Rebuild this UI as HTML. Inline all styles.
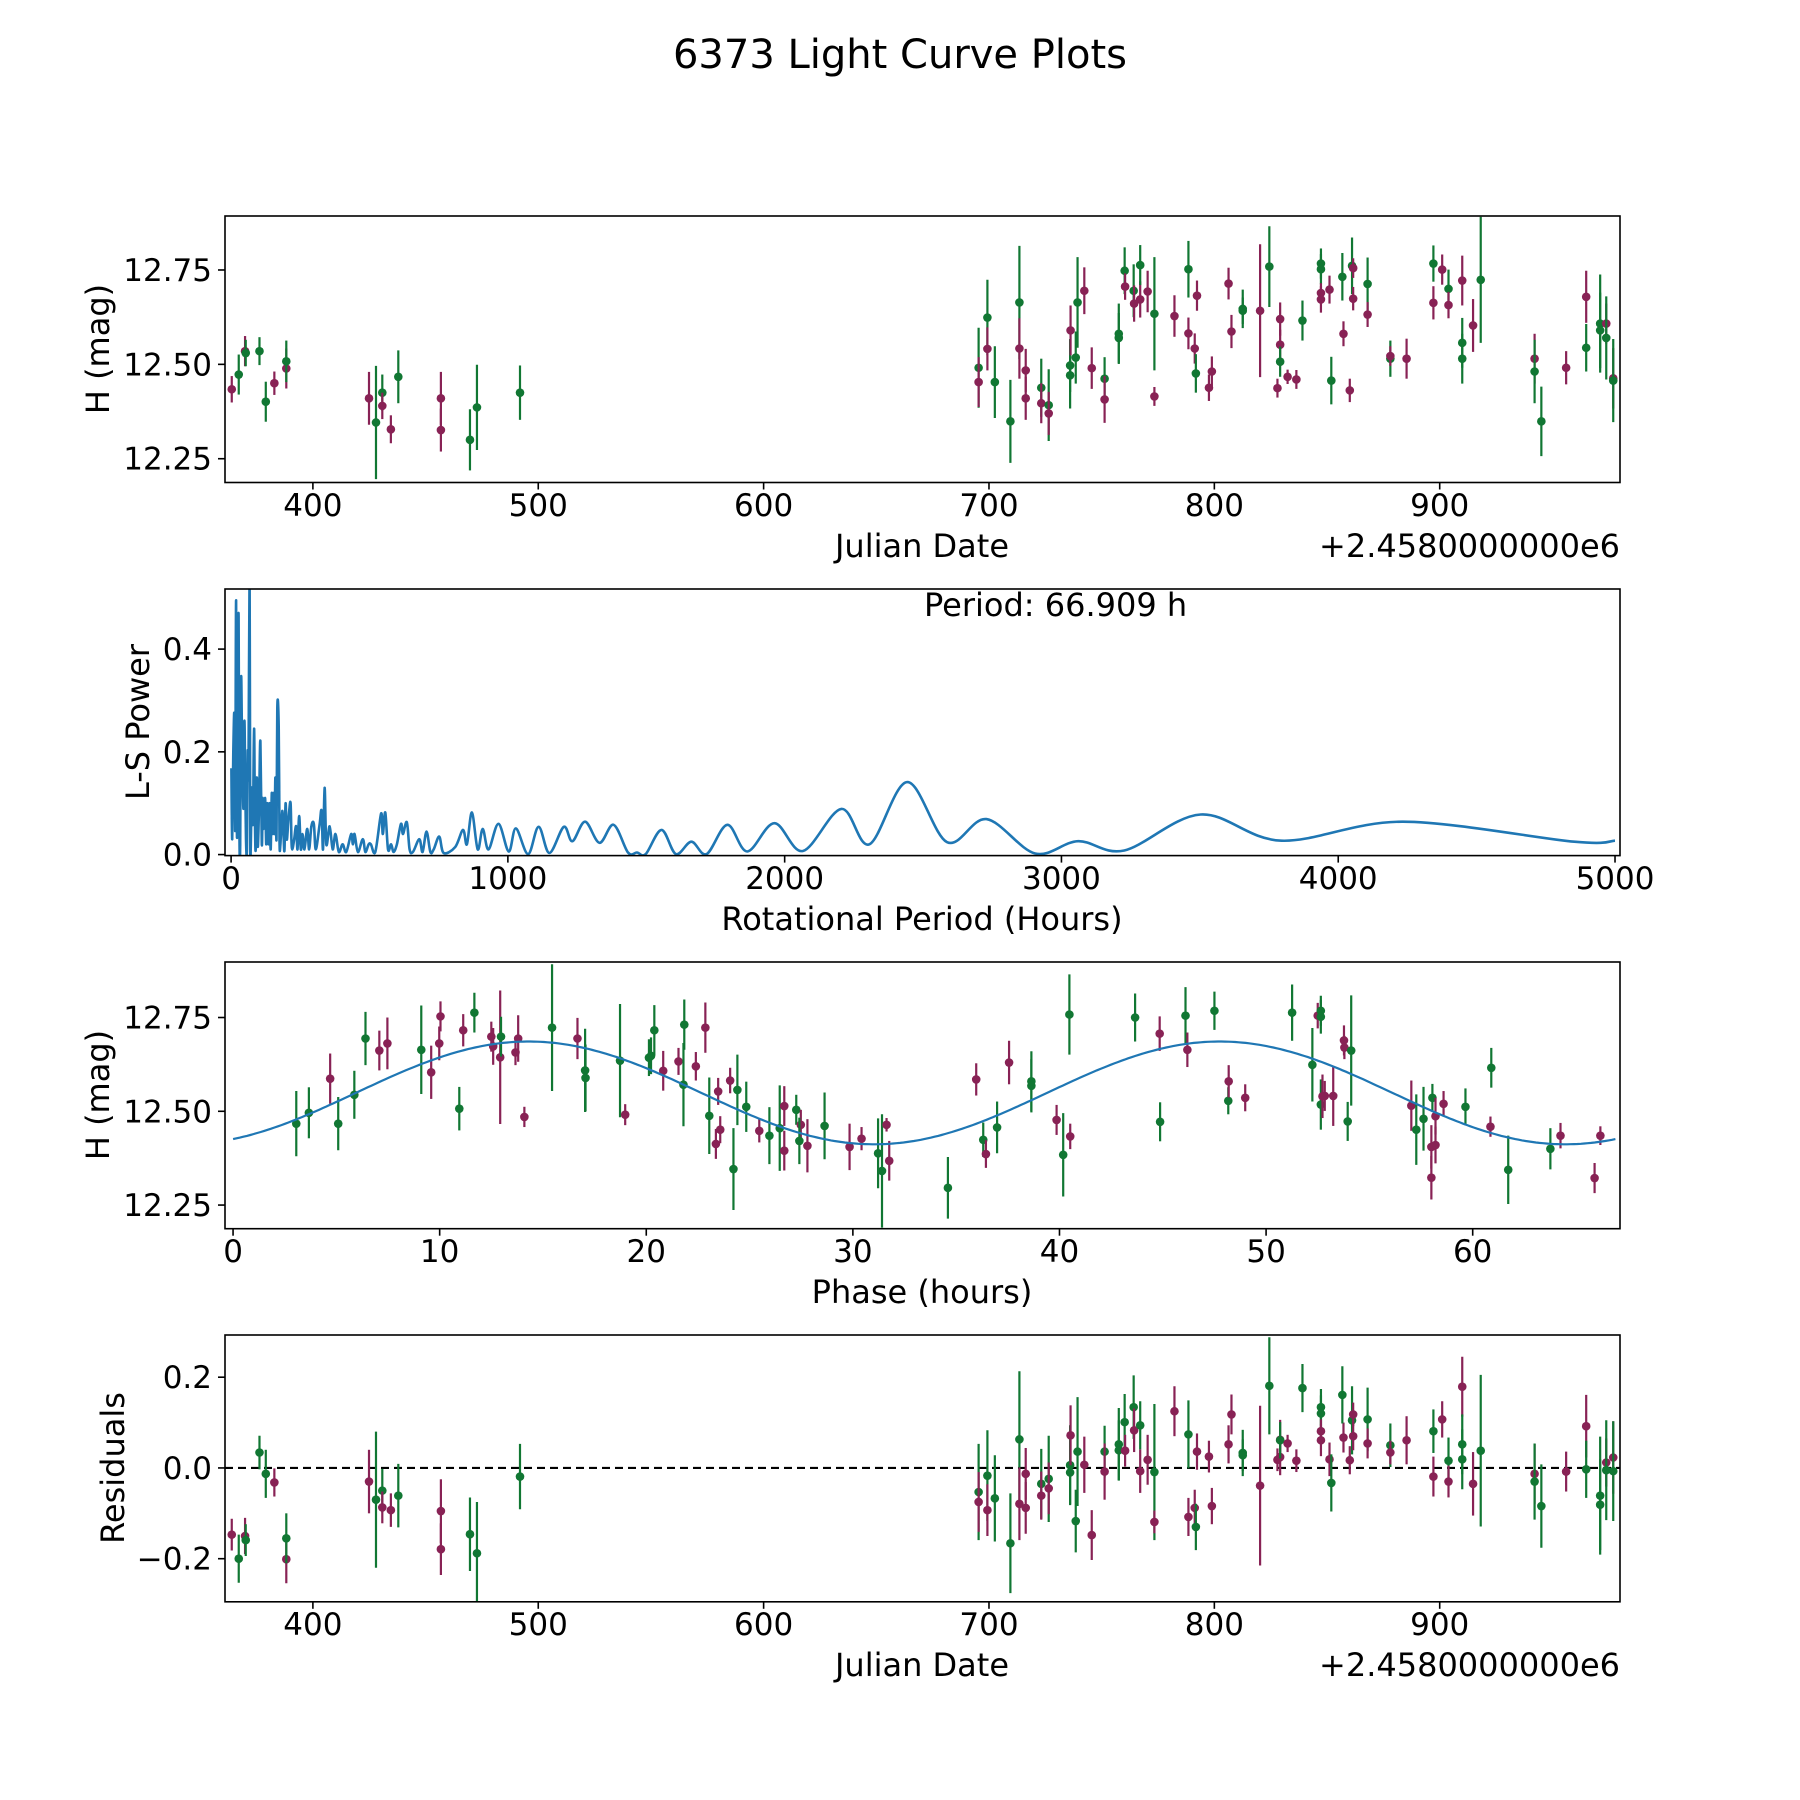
<!DOCTYPE html>
<html><head><meta charset="utf-8"><title>6373 Light Curve Plots</title>
<style>html,body{margin:0;padding:0;background:#fff}svg{display:block}text{font-family:"DejaVu Sans","Liberation Sans",sans-serif;fill:#000}</style>
</head><body>
<svg id="fig" xmlns="http://www.w3.org/2000/svg" width="1800" height="1800" viewBox="0 0 1800 1800">
<rect x="0" y="0" width="1800" height="1800" fill="#fff"/>
<text x="900" y="68" font-size="40" text-anchor="middle">6373 Light Curve Plots</text>
</svg>
<script>
// ---------- data: light curve (Julian Date offset from 2458000) ----------
const jd=[364.0,367.1,369.9,370.2,376.3,379.1,382.9,388.2,388.2,424.9,428,430.8,430.8,434.6,437.9,456.8,456.8,469.7,472.8,491.9,
695.4,695.4,699.3,699.3,702.6,709.5,713.5,713.5,716.3,716.3,723.2,723.2,726.5,726.5,736.0,736.0,736.2,738.5,739.3,742.3,
745.6,751.3,751.3,757.6,757.6,760.2,760.4,764.2,764.4,767.1,767.1,770.4,773.4,773.4,782.3,788.5,788.5,791.3,791.8,792.3,
797.6,798.9,806.3,807.6,812.6,812.6,820.3,824.4,828.0,829.2,829.2,829.2,832.5,836.4,839.1,847.3,847.3,847.3,847.3,851.1,
851.9,857.3,856.8,860.1,861.1,861.6,861.6,868.0,868.0,878.1,878.1,885.3,897.2,897.2,901.1,903.9,903.9,910,910,910,
914.8,918.2,942.1,942.1,945.1,956.1,965,965,971.2,971.2,973.9,973.9,977,977];
const mag=[12.434,12.473,12.535,12.53,12.535,12.401,12.45,12.489,12.508,12.41,12.346,12.425,12.39,12.328,12.467,12.41,12.326,12.3,12.386,12.425,
12.491,12.453,12.624,12.541,12.453,12.349,12.664,12.542,12.484,12.41,12.438,12.397,12.392,12.37,12.471,12.497,12.59,12.518,12.664,12.695,
12.49,12.462,12.407,12.581,12.57,12.748,12.706,12.695,12.661,12.672,12.763,12.693,12.634,12.415,12.628,12.752,12.582,12.542,12.476,12.682,
12.438,12.481,12.714,12.587,12.647,12.642,12.642,12.759,12.437,12.62,12.552,12.507,12.467,12.46,12.616,12.767,12.752,12.689,12.672,12.698,
12.457,12.581,12.732,12.431,12.761,12.755,12.674,12.713,12.632,12.515,12.522,12.515,12.767,12.663,12.751,12.7,12.657,12.722,12.557,12.515,
12.603,12.724,12.515,12.481,12.349,12.491,12.679,12.544,12.608,12.59,12.608,12.57,12.463,12.457];
const magErr=[.035,.053,.04,.035,.037,.053,.031,.053,.055,.07,.15,.048,.035,.037,.07,.07,.057,.081,.113,.072,
.106,.066,.1,.057,.095,.11,.15,.08,.057,.057,.077,.053,.095,.057,.088,.07,.066,.069,.12,.062,
.055,.057,.062,.08,.066,.062,.035,.07,.048,.048,.053,.055,.15,.025,.055,.075,.042,.04,.051,.04,
.035,.04,.042,.044,.051,.035,.176,.107,.025,.044,.04,.04,.019,.025,.053,.04,.04,.026,.035,.037,
.063,.033,.063,.031,.075,.026,.031,.07,.033,.048,.026,.053,.048,.044,.04,.051,.035,.066,.066,.066,
.07,.167,.066,.084,.092,.044,.069,.063,.13,.1,.053,.11,.08,.11];
const band=("pgpgggppgpggppgppggg"+"gpgpgggppp"+"gpgpggpggp"+"pgpgggpgpp"+"gpgppgppgp"+"ppppggpgpp"+"pgppgggppp"+"gpgpgppgpg"+"ppgppgppgg"+"pgpggppggg"+"pgpg").split('');
// ---------- residuals ----------
const resid=[-.147,-.2,-.15,-.159,.034,-.013,-.032,-.201,-.155,-.03,-.07,-.05,-.087,-.093,-.061,-.095,-.179,-.146,-.188,-.019,
-.053,-.075,-.017,-.093,-.067,-.166,.063,-.079,-.013,-.088,-.035,-.061,-.024,-.045,.006,-.01,.072,-.117,.036,.007,
-.148,.036,-.008,.052,.039,.101,.038,.134,.083,-.007,.094,.018,-.009,-.119,.125,.074,-.108,-.088,-.13,.036,
.025,-.084,.052,.118,.033,.028,-.039,.181,.018,.062,.024,.061,.054,.016,.176,.134,.12,.081,.061,.019,
-.033,.067,.161,.017,.105,.118,.07,.107,.054,.05,.034,.061,.081,-.019,.107,.016,-.03,.179,.052,.019,
-.035,.038,-.013,-.03,-.084,-.008,.092,-.003,-.061,-.081,.012,-.005,.023,-.007];
// ---------- phased light curve ----------
const phase=[3.06,3.67,4.70,5.09,5.87,6.41,7.08,7.47,9.11,9.59,9.98,10.04,10.95,11.68,11.14,12.5,12.59,12.93,12.97,13.67,13.8,14.1,15.44,16.67,17.04,17.06,18.73,18.98,20.13,20.23,20.39,20.82,21.56,21.84,21.8,22.4,22.86,23.05,23.37,23.48,23.58,24.06,24.22,24.41,24.84,25.47,25.96,26.46,26.68,26.68,27.26,27.48,27.41,27.8,28.63,29.84,30.42,31.22,31.41,31.63,31.76,
34.6,35.97,36.31,36.44,36.98,37.56,38.64,38.64,39.86,40.18,40.52,40.48,43.66,44.85,44.87,46.1,46.19,47.5,48.17,48.19,48.99,51.26,52.24,52.5,52.65,52.65,52.65,52.73,52.84,53.25,53.77,53.79,54.12,53.95,57.03,57.27,57.62,58.05,58.0,58.0,58.2,58.2,58.59,59.65,60.9,60.86,61.72,63.76,64.25,65.9,66.18];
const phMag=[12.467,12.496,12.587,12.467,12.544,12.694,12.662,12.681,12.664,12.604,12.681,12.753,12.507,12.763,12.716,12.699,12.673,12.644,12.699,12.657,12.694,12.485,12.723,12.694,12.609,12.589,12.635,12.491,12.643,12.648,12.716,12.608,12.633,12.731,12.571,12.62,12.723,12.488,12.413,12.553,12.451,12.582,12.346,12.557,12.512,12.448,12.435,12.455,12.514,12.395,12.504,12.464,12.421,12.408,12.461,12.405,12.427,12.388,12.341,12.464,12.368,
12.296,12.585,12.424,12.386,12.457,12.63,12.58,12.568,12.477,12.384,12.433,12.758,12.75,12.707,12.472,12.755,12.664,12.768,12.528,12.58,12.536,12.763,12.624,12.755,12.768,12.752,12.518,12.54,12.541,12.541,12.689,12.67,12.662,12.473,12.515,12.451,12.48,12.536,12.405,12.323,12.487,12.41,12.52,12.512,12.616,12.459,12.344,12.4,12.435,12.322,12.435];
const phErr=[.087,.068,.067,.071,.064,.071,.053,.069,.118,.071,.045,.04,.058,.053,.043,.04,.049,.178,.053,.034,.062,.027,.169,.055,.111,.089,.151,.028,.049,.049,.067,.053,.036,.067,.111,.038,.067,.102,.04,.036,.036,.034,.109,.094,.067,.031,.076,.114,.053,.053,.04,.04,.062,.071,.089,.062,.031,.093,.151,.018,.053,
.082,.043,.046,.037,.069,.058,.08,.071,.04,.111,.034,.107,.064,.046,.052,.076,.046,.051,.036,.043,.036,.075,.098,.034,.04,.045,.067,.058,.04,.08,.04,.031,.147,.052,.067,.094,.085,.037,.058,.058,.049,.049,.034,.049,.053,.027,.091,.055,.034,.04,.025];
const phBand=("ggpgggppgpppggppppgpppgpgggpgggppggppgppppgggpggppgpgpgppggpp"+"gpgpgpggpgpggpggpggppggpgggpppppggpgggpppppggpggppp").split('');
// fit model parameters (double-peaked sinusoid, period in hours)
const fitPeriod=66.909, fitMean=12.549, fitAmp=0.137, fitPhase0=5.94;
// ---------- Lomb-Scargle periodogram ----------
const lsPeriod=[1,4,8,12,15,18,21,23,25,27,30,33,36,40,45,48,51,54,57,60,63,66.9,69,71,75,79,83,86,89,93,96,99,102,106,111,114,117,123,127,131,135,139,143,147,150,154,157,160,164,167,172,175,178,185,190,193,197,201,206,210,215,218,221,228,235,240,246,252,258,265,275,282,290,299,306,320,327,332,338,344,356,367,377,389,403,416,434,440,446,458,476,485,497,505,521,542,548,557,567,578,587,599,614,621,635,645,657,680,692,706,720,732,752,768,810,838,852,870,891,909,930,966,
1003,1029,1073,1111,1150,1202,1233,1279,1331,1382,1434,1467,1498,1555,1607,1663,1718,1793,1865,1963,2066,2205,2306,2443,2587,2729,2905,3060,3227,3503,3795,4234,4853,5000];
const lsPower=[.168,.03,.2,.27,.05,.495,.05,.14,.3,.463,
.05,.02,.343,.2,.09,.26,.14,.03,.01,.2,
.16,.55,.03,.01,.13,.06,.245,.07,.01,.15,
.02,.05,.12,.22,.02,.11,.05,.11,.02,.1,
.02,.1,.01,.12,.04,.12,.04,.15,.03,.285,
.25,.03,.02,.085,.03,.01,.1,.03,.06,.085,
.1,.03,.01,.03,.055,.01,.075,.01,.04,.01,
.05,.01,.055,.06,.01,.06,.085,.01,.13,.02,
.055,.01,.04,.005,.02,.005,.04,.02,.04,.005,
.03,.005,.02,.02,.005,.08,.04,.082,.01,.02,
.005,.02,.06,.04,.063,.01,.005,.03,.005,.045,
.005,.01,.035,.003,.015,.048,.02,.082,.01,.05,
.01,.06,
.006,.051,.001,.054,.003,.054,.026,.064,.023,.058,.004,.004,.001,.048,.001,.025,.001,.058,.006,.061,.007,.089,.02,.141,.024,.069,.002,.026,.008,.078,.027,.064,.025,.027];
// tick labels
const jdTicks=[400,500,600,700,800,900];
const magTicks=[12.25,12.5,12.75];
const magTickLabels=["12.25","12.50","12.75"];
const perTicks=[0,1000,2000,3000,4000,5000];
const powTicks=[0,0.2,0.4];
const powTickLabels=["0.0","0.2","0.4"];
const phTicks=[0,10,20,30,40,50,60];
const resTicks=[-0.2,0,0.2];
const resTickLabels=["\u22120.2","0.0","0.2"];

const NS="http://www.w3.org/2000/svg";
const svg=document.getElementById('fig');
const GREEN="#117733", PURPLE="#882255", BLUE="#1f77b4";
function mk(tag,attrs,parent){const e=document.createElementNS(NS,tag);for(const k in attrs)e.setAttribute(k,attrs[k]);(parent||svg).appendChild(e);return e;}
function makeAxes(id,px0,px1,py0,py1,dx0,dx1,dy0,dy1){
  const sx=v=>px0+(v-dx0)/(dx1-dx0)*(px1-px0);
  const sy=v=>py1-(v-dy0)/(dy1-dy0)*(py1-py0);
  const defs=mk('defs',{});
  const cp=mk('clipPath',{id:'clip-'+id},defs);
  mk('rect',{x:px0,y:py0,width:px1-px0,height:py1-py0},cp);
  const g=mk('g',{});
  
  
  const plot=mk('g',{'clip-path':'url(#clip-'+id+')'},g);
  
  
  return {sx,sy,g,plot,px0,px1,py0,py1};
}
function frame(ax,id){
  const r=mk('rect',{x:ax.px0,y:ax.py0,width:ax.px1-ax.px0,height:ax.py1-ax.py0,fill:'none',stroke:'#000','stroke-width':1.6},ax.g);
  
  
}
function xTicks(ax,id,vals,labels,base){
  vals.forEach((v,i)=>{
    const x=ax.sx(v);
    const t=mk('line',{x1:x,x2:x,y1:ax.py1,y2:ax.py1+7,stroke:'#000','stroke-width':1.6},ax.g);
    
    
    const tx=mk('text',{x:x,y:base,'font-size':31,'text-anchor':'middle'},ax.g);
    tx.textContent=labels[i];
    
    
  });
}
function yTicks(ax,id,vals,labels){
  vals.forEach((v,i)=>{
    const y=ax.sy(v);
    const t=mk('line',{x1:ax.px0-7,x2:ax.px0,y1:y,y2:y,stroke:'#000','stroke-width':1.6},ax.g);
    
    
    const tx=mk('text',{x:ax.px0-13,y:y+11,'font-size':31,'text-anchor':'end'},ax.g);
    tx.textContent=labels[i];
    
    
  });
}
function label(ax,id,text,x,y,rot,anchor,name){
  const t=mk('text',{x:x,y:y,'font-size':32,'text-anchor':anchor||'middle'},ax.g);
  if(rot)t.setAttribute('transform','rotate(-90 '+x+' '+y+')');
  t.textContent=text;
  
  
}
function errPoints(ax,id,xs,ys,es,bs){
  xs.forEach((xv,i)=>{
    const c=bs[i]==='g'?GREEN:PURPLE;
    const x=ax.sx(xv);
    const l=mk('line',{x1:x,x2:x,y1:ax.sy(ys[i]-es[i]),y2:ax.sy(ys[i]+es[i]),stroke:c,'stroke-width':2.2},ax.plot);
    
    
    const p=mk('circle',{cx:x,cy:ax.sy(ys[i]),r:4.3,fill:c},ax.plot);
    
    
  });
}
function smoothPath(pts){
  let d='M'+pts[0][0].toFixed(1)+','+pts[0][1].toFixed(1);
  for(let i=0;i<pts.length-1;i++){
    const p0=pts[i-1]||pts[i],p1=pts[i],p2=pts[i+1],p3=pts[i+2]||p2;
    const c1=[p1[0]+(p2[0]-p0[0])/6,p1[1]+(p2[1]-p0[1])/6];
    const c2=[p2[0]-(p3[0]-p1[0])/6,p2[1]-(p3[1]-p1[1])/6];
    d+='C'+c1[0].toFixed(1)+','+c1[1].toFixed(1)+' '+c2[0].toFixed(1)+','+c2[1].toFixed(1)+' '+p2[0].toFixed(1)+','+p2[1].toFixed(1);
  }
  return d;
}

// ---------- Panel 1: light curve ----------
const a1=makeAxes('light-curve',225,1620,216,482.5,361,980,12.187,12.893);
errPoints(a1,'light-curve',jd,mag,magErr,band);
frame(a1,'light-curve');
xTicks(a1,'light-curve',jdTicks,jdTicks.map(String),516);
yTicks(a1,'light-curve',magTicks,magTickLabels);
label(a1,'light-curve','Julian Date',922,557,false,'middle','light-curve-x-axis-title');
label(a1,'light-curve','+2.4580000000e6',1620,557,false,'end','light-curve-x-offset-label');
label(a1,'light-curve','H (mag)',109,349,true,'middle','light-curve-y-axis-title');

// ---------- Panel 2: periodogram ----------
const a2=makeAxes('periodogram',225,1620,589,855.6,-22,5018,-0.002,0.517);
const lsPts=lsPeriod.map((p,i)=>[a2.sx(p),a2.sy(lsPower[i])]);
const ls=mk('path',{d:smoothPath(lsPts),fill:'none',stroke:BLUE,'stroke-width':2.6,'stroke-linejoin':'round'},a2.plot);


frame(a2,'periodogram');
xTicks(a2,'periodogram',perTicks,perTicks.map(String),889);
yTicks(a2,'periodogram',powTicks,powTickLabels);
label(a2,'periodogram','Rotational Period (Hours)',922,930,false,'middle','periodogram-x-axis-title');
label(a2,'periodogram','L-S Power',149,722,true,'middle','periodogram-y-axis-title');
label(a2,'periodogram','Period: '+fitPeriod.toFixed(3)+' h',924,616,false,'start','period-annotation');

// ---------- Panel 3: phased ----------
const a3=makeAxes('phased',225,1620,962,1228.7,-0.39,67.13,12.187,12.898);
errPoints(a3,'phased',phase,phMag,phErr,phBand);
const fitPts=[];
for(let k=0;k<=400;k++){const ph=fitPeriod*k/400;fitPts.push(a3.sx(ph).toFixed(1)+','+a3.sy(fitMean+fitAmp*Math.sin(2*Math.PI*(ph-fitPhase0)/(fitPeriod/2))).toFixed(1));}
const fl=mk('polyline',{points:fitPts.join(' '),fill:'none',stroke:BLUE,'stroke-width':2.2},a3.plot);


frame(a3,'phased');
xTicks(a3,'phased',phTicks,phTicks.map(String),1262);
yTicks(a3,'phased',magTicks,magTickLabels);
label(a3,'phased','Phase (hours)',922,1303,false,'middle','phased-x-axis-title');
label(a3,'phased','H (mag)',109,1095,true,'middle','phased-y-axis-title');

// ---------- Panel 4: residuals ----------
const a4=makeAxes('residuals',225,1620,1335,1601.8,361,980,-0.295,0.293);
const zl=mk('line',{x1:225,x2:1620,y1:a4.sy(0),y2:a4.sy(0),stroke:'#000','stroke-width':2.2,'stroke-dasharray':'8,5'},a4.plot);


errPoints(a4,'residuals',jd,resid,magErr,band);
frame(a4,'residuals');
xTicks(a4,'residuals',jdTicks,jdTicks.map(String),1635);
yTicks(a4,'residuals',resTicks,resTickLabels);
label(a4,'residuals','Julian Date',922,1676,false,'middle','residuals-x-axis-title');
label(a4,'residuals','+2.4580000000e6',1620,1676,false,'end','residuals-x-offset-label');
label(a4,'residuals','Residuals',124,1468,true,'middle','residuals-y-axis-title');
</script>
</body></html>
